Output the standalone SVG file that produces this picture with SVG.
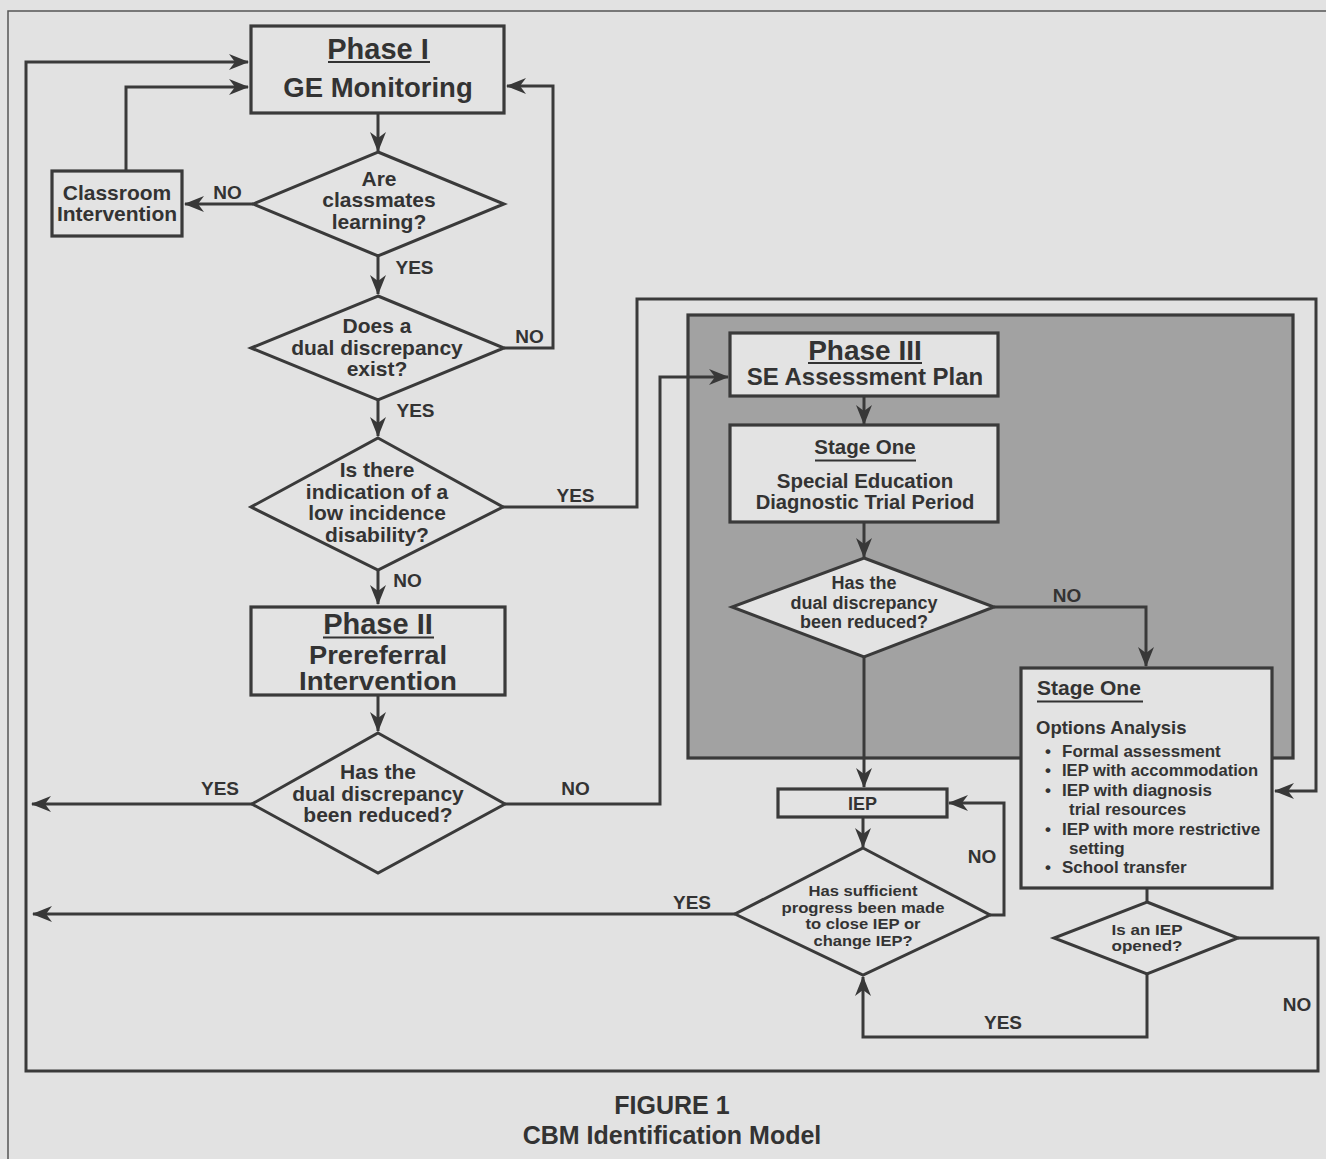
<svg xmlns="http://www.w3.org/2000/svg" width="1326" height="1159" viewBox="0 0 1326 1159">
<defs>
<marker id="ah" viewBox="0 0 20 16" refX="19" refY="8" markerWidth="20" markerHeight="16" markerUnits="userSpaceOnUse" orient="auto">
<path d="M0,0 L20,8 L0,16 L6,8 Z" fill="#383838"/>
</marker>
<style>
.bg{fill:#e2e2e2}
.frame{fill:none;stroke:#555;stroke-width:1.5}
.box{fill:#e3e3e3;stroke:#3a3a3a;stroke-width:3.2}
.panel{fill:#a2a2a2;stroke:#3a3a3a;stroke-width:3.2}
.dia{fill:#e3e3e3;stroke:#3a3a3a;stroke-width:3}
.ln{fill:none;stroke:#3a3a3a;stroke-width:3}
.arr{fill:none;stroke:#3a3a3a;stroke-width:3;marker-end:url(#ah)}
.ul{stroke:#333;stroke-width:2}
text{font-family:"Liberation Sans",Arial,sans-serif;font-weight:bold;fill:#333;text-anchor:middle}
.lbl{font-size:19px}
.st{text-anchor:start}
</style>
</defs>
<rect class="bg" x="0" y="0" width="1326" height="1159"/>
<path class="frame" d="M1326,11 H8 V1159"/>
<rect class="panel" x="688" y="315" width="605" height="443"/>

<g id="connectors">
<path class="arr" d="M378,113 V151"/>
<path class="arr" d="M253,204 H185"/>
<path class="arr" d="M126,171 V87 H248"/>
<path class="arr" d="M378,256 V294"/>
<path class="arr" d="M504,348 H553 V86 H507"/>
<path class="arr" d="M378,400 V436"/>
<path class="arr" d="M503,507 H637 V299 H1316 V791 H1275"/>
<path class="arr" d="M378,570 V604"/>
<path class="arr" d="M378,695 V731"/>
<path class="arr" d="M252,804 H32"/>
<path class="arr" d="M505,804 H660 V377 H728"/>
<path class="arr" d="M864,396 V424"/>
<path class="arr" d="M864,522 V557"/>
<path class="arr" d="M994,607 H1146 V666"/>
<path class="arr" d="M864,657 V787"/>
<path class="arr" d="M863,817 V847"/>
<path class="arr" d="M990,915 H1004 V803 H949"/>
<path class="arr" d="M735,914 H33"/>
<path class="ln" d="M1147,888 V902"/>
<path class="arr" d="M1147,974 V1037 H863 V977"/>
<path class="arr" d="M1238,938 H1318 V1071 H26 V62 H248"/>
<text class="lbl" x="227.5" y="199">NO</text>
<text class="lbl" x="414.5" y="274">YES</text>
<text class="lbl" x="529.5" y="343">NO</text>
<text class="lbl" x="415.5" y="417">YES</text>
<text class="lbl" x="575.5" y="502">YES</text>
<text class="lbl" x="407.5" y="587">NO</text>
<text class="lbl" x="220" y="795">YES</text>
<text class="lbl" x="575.5" y="795">NO</text>
<text class="lbl" x="1067" y="602">NO</text>
<text class="lbl" x="982" y="863">NO</text>
<text class="lbl" x="692" y="909">YES</text>
<text class="lbl" x="1003" y="1029">YES</text>
<text class="lbl" x="1297" y="1011">NO</text>
</g>

<g id="phase1">
<rect class="box" x="251" y="26" width="253" height="87"/>
<text x="378" y="58.5" font-size="29">Phase I</text>
<line class="ul" x1="328" y1="62" x2="430" y2="62"/>
<text x="378" y="97" font-size="27.5">GE Monitoring</text>
</g>

<g id="classroom">
<rect class="box" x="52" y="171" width="130" height="65"/>
<text x="117" y="199.5" font-size="21">Classroom</text>
<text x="117" y="220.5" font-size="21">Intervention</text>
</g>

<g id="d1">
<polygon class="dia" points="378,152 504,204 378,256 253,204"/>
<text x="379" y="185.5" font-size="21">Are</text>
<text x="379" y="207" font-size="21">classmates</text>
<text x="379" y="228.5" font-size="21">learning?</text>
</g>

<g id="d2">
<polygon class="dia" points="378,296 504,348 378,400 251,348"/>
<text x="377" y="333" font-size="21">Does a</text>
<text x="377" y="354.5" font-size="21">dual discrepancy</text>
<text x="377" y="376" font-size="21">exist?</text>
</g>

<g id="d3">
<polygon class="dia" points="378,438 503,507 378,570 251,507"/>
<text x="377" y="477" font-size="21">Is there</text>
<text x="377" y="498.5" font-size="21">indication of a</text>
<text x="377" y="520" font-size="21">low incidence</text>
<text x="377" y="541.5" font-size="21">disability?</text>
</g>

<g id="phase2">
<rect class="box" x="251" y="607" width="254" height="88"/>
<text x="378" y="634" font-size="29">Phase II</text>
<line class="ul" x1="323" y1="637.5" x2="434" y2="637.5"/>
<text x="378" y="663.5" font-size="25" textLength="138" lengthAdjust="spacingAndGlyphs">Prereferral</text>
<text x="378" y="689.5" font-size="25" textLength="158" lengthAdjust="spacingAndGlyphs">Intervention</text>
</g>

<g id="d4">
<polygon class="dia" points="378,733 505,804 378,873 252,804"/>
<text x="378" y="779" font-size="21">Has the</text>
<text x="378" y="801" font-size="21">dual discrepancy</text>
<text x="378" y="822" font-size="21">been reduced?</text>
</g>

<g id="phase3">
<rect class="box" x="730" y="333" width="268" height="63"/>
<text x="865" y="360" font-size="28">Phase III</text>
<line class="ul" x1="808" y1="363" x2="922" y2="363"/>
<text x="865" y="385" font-size="24">SE Assessment Plan</text>
</g>

<g id="stage1trial">
<rect class="box" x="730" y="425" width="268" height="97"/>
<text x="865" y="454" font-size="20.5">Stage One</text>
<line class="ul" x1="815" y1="460.5" x2="916" y2="460.5"/>
<text x="865" y="488" font-size="20.5">Special Education</text>
<text x="865" y="508.5" font-size="20.2">Diagnostic Trial Period</text>
</g>

<g id="d5">
<polygon class="dia" points="864,558 994,607 864,657 732,607"/>
<text x="864" y="588.5" font-size="18">Has the</text>
<text x="864" y="608.5" font-size="18">dual discrepancy</text>
<text x="864" y="627.5" font-size="18">been reduced?</text>
</g>

<g id="options">
<rect class="box" x="1021" y="668" width="251" height="220"/>
<text class="st" x="1037" y="695" font-size="21">Stage One</text>
<line class="ul" x1="1037" y1="701.5" x2="1143" y2="701.5"/>
<text class="st" x="1036" y="733.5" font-size="18.5">Options Analysis</text>
<text class="st" x="1045" y="756.5" font-size="17">•</text>
<text class="st" x="1062" y="756.5" font-size="17">Formal assessment</text>
<text class="st" x="1045" y="776" font-size="17">•</text>
<text class="st" x="1062" y="776" font-size="16.6">IEP with accommodation</text>
<text class="st" x="1045" y="795.5" font-size="17">•</text>
<text class="st" x="1062" y="795.5" font-size="17">IEP with diagnosis</text>
<text class="st" x="1069" y="815" font-size="17">trial resources</text>
<text class="st" x="1045" y="834.5" font-size="17">•</text>
<text class="st" x="1062" y="834.5" font-size="17">IEP with more restrictive</text>
<text class="st" x="1069" y="853.5" font-size="17">setting</text>
<text class="st" x="1045" y="872.5" font-size="17">•</text>
<text class="st" x="1062" y="872.5" font-size="17">School transfer</text>
</g>

<g id="iep">
<rect class="box" x="778" y="789" width="169" height="28"/>
<text x="862.5" y="810" font-size="18">IEP</text>
</g>

<g id="d6">
<polygon class="dia" points="863,848 990,915 863,975 735,914"/>
<text x="863" y="896" font-size="15" textLength="109" lengthAdjust="spacingAndGlyphs">Has sufficient</text>
<text x="863" y="912.5" font-size="15" textLength="163" lengthAdjust="spacingAndGlyphs">progress been made</text>
<text x="863" y="929" font-size="15" textLength="115" lengthAdjust="spacingAndGlyphs">to close IEP or</text>
<text x="863" y="945.5" font-size="15" textLength="99" lengthAdjust="spacingAndGlyphs">change IEP?</text>
</g>

<g id="d7">
<polygon class="dia" points="1147,902 1238,938 1147,974 1054,938"/>
<text x="1147" y="934.5" font-size="15" textLength="71" lengthAdjust="spacingAndGlyphs">Is an IEP</text>
<text x="1147" y="951" font-size="15" textLength="71" lengthAdjust="spacingAndGlyphs">opened?</text>
</g>

<g id="caption">
<text x="672" y="1113.5" font-size="25">FIGURE 1</text>
<text x="672" y="1143.5" font-size="25">CBM Identification Model</text>
</g>
</svg>
